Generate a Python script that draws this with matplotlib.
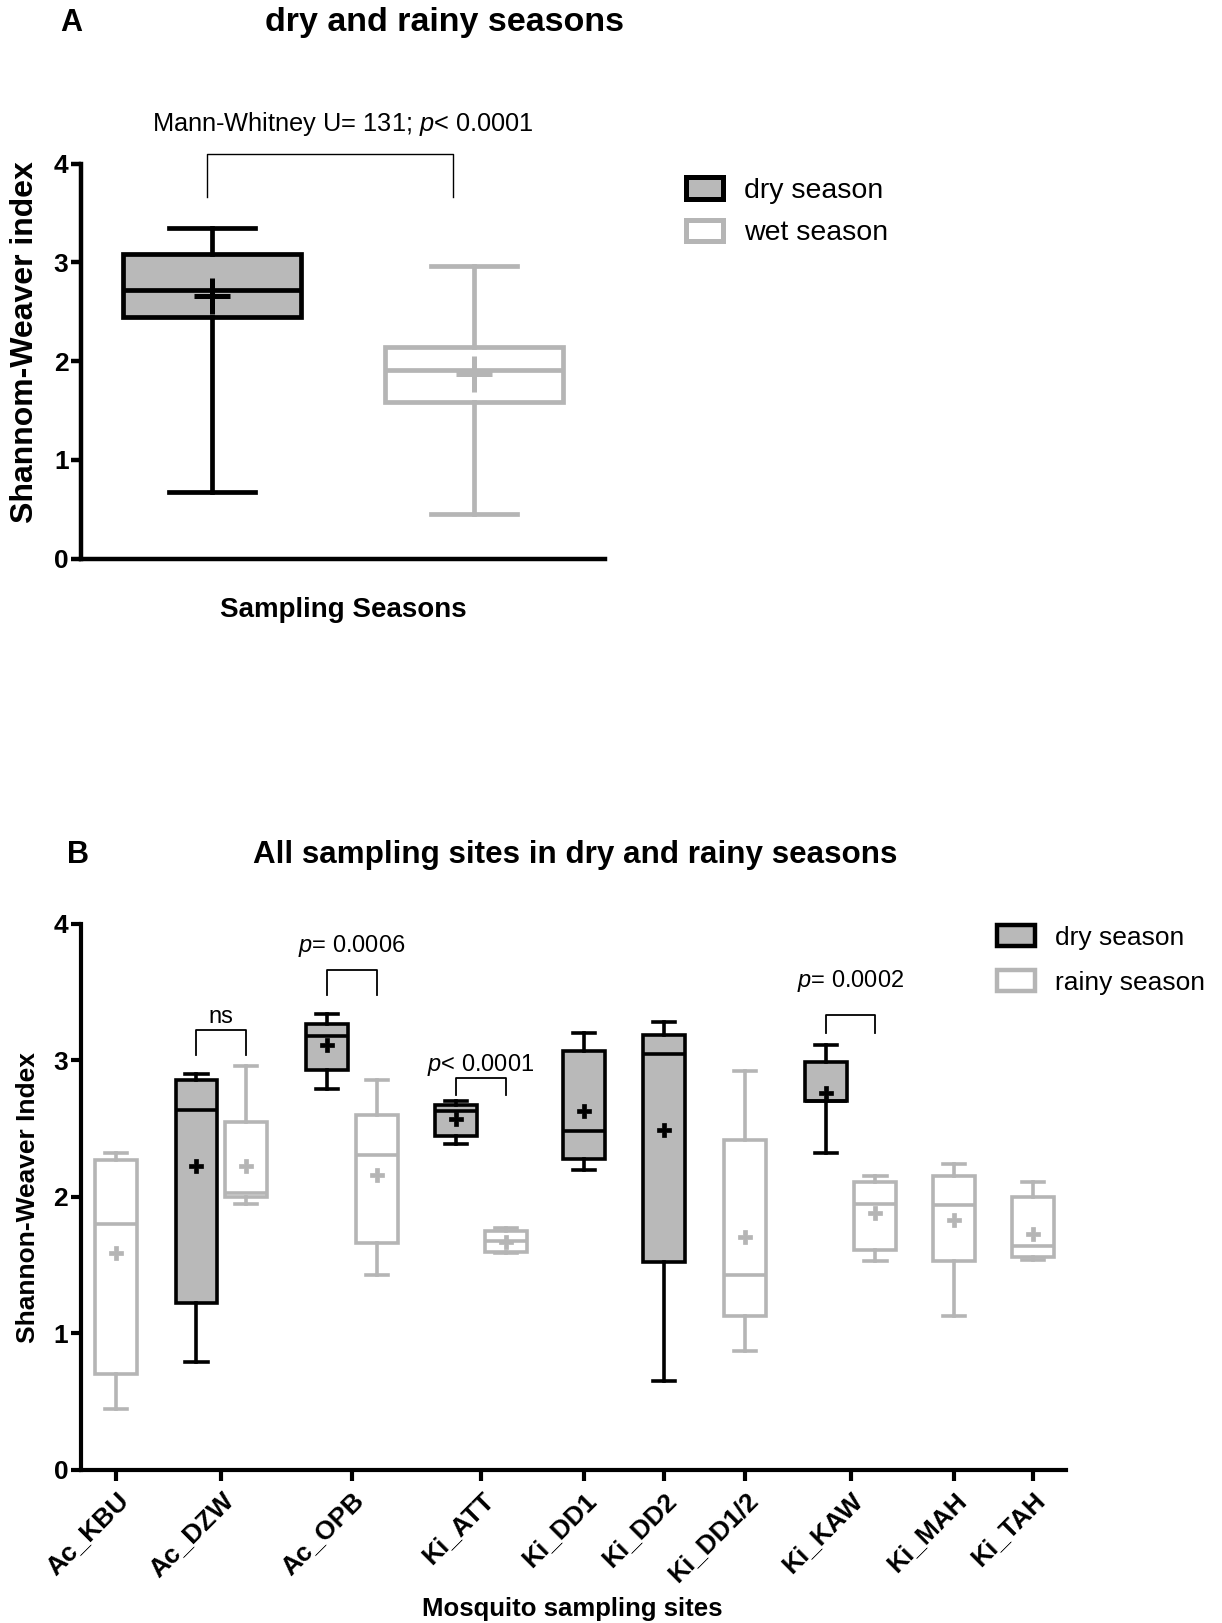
import matplotlib
matplotlib.use("Agg")
import matplotlib.pyplot as plt
from matplotlib.patches import Patch

plt.rcParams["font.family"] = ["Liberation Sans", "DejaVu Sans"]
plt.rcParams["mathtext.fontset"] = "custom"
plt.rcParams["mathtext.it"] = "Liberation Sans:italic"
plt.rcParams["mathtext.rm"] = "Liberation Sans"

GREY = "#b5b5b5"
FILL = "#b9b9b9"

# ---- panel A: seasons pooled ----
a_seasons = ["dry season", "wet season"]
a_whislo = [0.67, 0.45]
a_q1 = [2.45, 1.59]
a_med = [2.72, 1.91]
a_q3 = [3.08, 2.14]
a_whishi = [3.35, 2.96]
a_mean = [2.66, 1.87]

# ---- panel B: per site (None = no samples that season) ----
sites = ["Ac_KBU", "Ac_DZW", "Ac_OPB", "Ki_ATT", "Ki_DD1", "Ki_DD2",
         "Ki_DD1/2", "Ki_KAW", "Ki_MAH", "Ki_TAH"]
dry_whislo = [None, 0.79, 2.79, 2.39, 2.20, 0.65, None, 2.32, None, None]
dry_q1 = [None, 1.22, 2.93, 2.45, 2.28, 1.52, None, 2.70, None, None]
dry_med = [None, 2.64, 3.18, 2.63, 2.48, 3.05, None, 2.70, None, None]
dry_q3 = [None, 2.86, 3.27, 2.675, 3.07, 3.19, None, 2.99, None, None]
dry_whishi = [None, 2.90, 3.34, 2.70, 3.20, 3.28, None, 3.11, None, None]
dry_mean = [None, 2.23, 3.11, 2.57, 2.63, 2.49, None, 2.76, None, None]

rainy_whislo = [0.45, 1.95, 1.43, 1.59, None, None, 0.87, 1.53, 1.13, 1.54]
rainy_q1 = [0.70, 2.00, 1.66, 1.60, None, None, 1.13, 1.61, 1.53, 1.56]
rainy_med = [1.80, 2.03, 2.31, 1.68, None, None, 1.43, 1.95, 1.94, 1.64]
rainy_q3 = [2.27, 2.55, 2.60, 1.75, None, None, 2.42, 2.11, 2.15, 2.00]
rainy_whishi = [2.325, 2.96, 2.86, 1.77, None, None, 2.92, 2.15, 2.24, 2.11]
rainy_mean = [1.59, 2.23, 2.16, 1.67, None, None, 1.705, 1.88, 1.83, 1.73]

# significance brackets: (site index, label, bracket y, leg bottom y, text y)
b_tests = [(1, "ns", 3.22, 3.04, 3.32),
           (2, r"$\it{p}$= 0.0006", 3.66, 3.48, 3.84),
           (3, r"$\it{p}$< 0.0001", 2.87, 2.75, 2.97),
           (7, r"$\it{p}$= 0.0002", 3.33, 3.20, 3.58)]

# layout (x positions of site ticks in axis units)
site_x = [0.71, 2.83, 5.46, 8.06, 10.13, 11.75, 13.38, 15.5, 17.58, 19.17]


def stats_of(lo, q1, med, q3, hi, mean):
    return dict(whislo=lo, q1=q1, med=med, q3=q3, whishi=hi, mean=mean, fliers=[])


def draw_boxes(ax, stats, pos, width, edge, face, lw, mean_kw, capw):
    ax.bxp(stats, positions=pos, widths=width, patch_artist=True,
           showmeans=True, showfliers=False, capwidths=capw,
           boxprops=dict(facecolor=face, edgecolor=edge, linewidth=lw),
           whiskerprops=dict(color=edge, linewidth=lw),
           capprops=dict(color=edge, linewidth=lw),
           medianprops=dict(color=edge, linewidth=lw),
           meanprops=dict(markeredgecolor=edge, markerfacecolor=edge, **mean_kw),
           manage_ticks=False)


def style_axis(ax, lw):
    for side in ("top", "right"):
        ax.spines[side].set_visible(False)
    for side in ("left", "bottom"):
        ax.spines[side].set_linewidth(lw)
    ax.set_ylim(0, 4)
    ax.set_yticks([0, 1, 2, 3, 4], ["0", "1", "2", "3", "4"], fontweight="bold")
    ax.tick_params(axis="y", length=7, width=lw, labelsize=19, pad=2)


fig = plt.figure(figsize=(12.22, 16.23), dpi=100)

# ================= Panel A =================
axA = fig.add_axes([0.0663, 0.6558, 0.4288, 0.2434])
style_axis(axA, 3.2)
axA.set_xlim(0, 4)
axA.set_xticks([])

a_pos = [1.0, 3.0]
meanA = dict(marker="+", markersize=26, markeredgewidth=3.6)
draw_boxes(axA, [stats_of(a_whislo[0], a_q1[0], a_med[0], a_q3[0], a_whishi[0], a_mean[0])],
           [a_pos[0]], 1.36, "black", FILL, 3.4, meanA, 0.66)
draw_boxes(axA, [stats_of(a_whislo[1], a_q1[1], a_med[1], a_q3[1], a_whishi[1], a_mean[1])],
           [a_pos[1]], 1.36, GREY, "white", 3.4, meanA, 0.66)

axA.plot([0.96, 0.96, 2.84, 2.84], [3.66, 4.1, 4.1, 3.66], color="black",
         lw=1.0, clip_on=False)
axA.text(2.0, 4.4, r"Mann-Whitney U= 131; $\it{p}$< 0.0001", ha="center",
         va="center", fontsize=18.3)

fig.legend([Patch(facecolor=FILL, edgecolor="black", linewidth=3.6),
            Patch(facecolor="white", edgecolor=GREY, linewidth=3.6)],
           a_seasons, loc="upper left", bbox_to_anchor=(0.561, 0.891),
           frameon=False, fontsize=20.5, handlelength=1.3, handleheight=0.8,
           handletextpad=0.75, labelspacing=0.56, borderpad=0, borderaxespad=0)

fig.text(0.058, 0.986, "A", ha="center", va="center", fontsize=22, fontweight="bold")
fig.text(0.364, 0.986, "dry and rainy seasons", ha="center", va="center",
         fontsize=24.5, fontweight="bold")
fig.text(0.0204, 0.789, "Shannom-Weaver index", rotation=90, ha="center",
         va="center", fontsize=23, fontweight="bold")
fig.text(0.281, 0.624, "Sampling Seasons", ha="center", va="center",
         fontsize=20, fontweight="bold")

# ================= Panel B =================
axB = fig.add_axes([0.066, 0.0943, 0.806, 0.3364])
style_axis(axB, 3.0)
axB.set_xlim(0, 19.83)
axB.set_xticks(site_x, sites, rotation=45, ha="right", va="top",
               rotation_mode="anchor", fontweight="bold", fontsize=19)
axB.tick_params(axis="x", length=8, width=3.0, pad=5)

meanB = dict(marker="P", markersize=10.5, markeredgewidth=0.5)
off = 0.5
dry_stats, dry_pos, rainy_stats, rainy_pos = [], [], [], []
for i, x in enumerate(site_x):
    paired = dry_med[i] is not None and rainy_med[i] is not None
    if dry_med[i] is not None:
        dry_stats.append(stats_of(dry_whislo[i], dry_q1[i], dry_med[i],
                                  dry_q3[i], dry_whishi[i], dry_mean[i]))
        dry_pos.append(x - off if paired else x)
    if rainy_med[i] is not None:
        rainy_stats.append(stats_of(rainy_whislo[i], rainy_q1[i], rainy_med[i],
                                    rainy_q3[i], rainy_whishi[i], rainy_mean[i]))
        rainy_pos.append(x + off if paired else x)

draw_boxes(axB, dry_stats, dry_pos, 0.84, "black", FILL, 2.6, meanB, 0.45)
draw_boxes(axB, rainy_stats, rainy_pos, 0.84, GREY, "white", 2.6, meanB, 0.45)

for i, label, ytop, ybot, ytxt in b_tests:
    x0, x1 = site_x[i] - off, site_x[i] + off
    axB.plot([x0, x0, x1, x1], [ybot, ytop, ytop, ybot], color="black", lw=1.3)
    axB.text((x0 + x1) / 2, ytxt, label, ha="center", va="center", fontsize=17)

fig.legend([Patch(facecolor=FILL, edgecolor="black", linewidth=3.2),
            Patch(facecolor="white", edgecolor=GREY, linewidth=3.2)],
           ["dry season", "rainy season"], loc="upper left",
           bbox_to_anchor=(0.8155, 0.430), frameon=False, fontsize=19,
           handlelength=1.45, handleheight=0.85, handletextpad=0.75,
           labelspacing=0.78, borderpad=0, borderaxespad=0)

fig.text(0.0635, 0.473, "B", ha="center", va="center", fontsize=22, fontweight="bold")
fig.text(0.471, 0.473, "All sampling sites in dry and rainy seasons", ha="center",
         va="center", fontsize=22.6, fontweight="bold")
fig.text(0.023, 0.262, "Shannon-Weaver Index", rotation=90, ha="center",
         va="center", fontsize=19, fontweight="bold")
fig.text(0.468, 0.0085, "Mosquito sampling sites", ha="center", va="center",
         fontsize=18.5, fontweight="bold")

fig.savefig("out.png", dpi=100)
